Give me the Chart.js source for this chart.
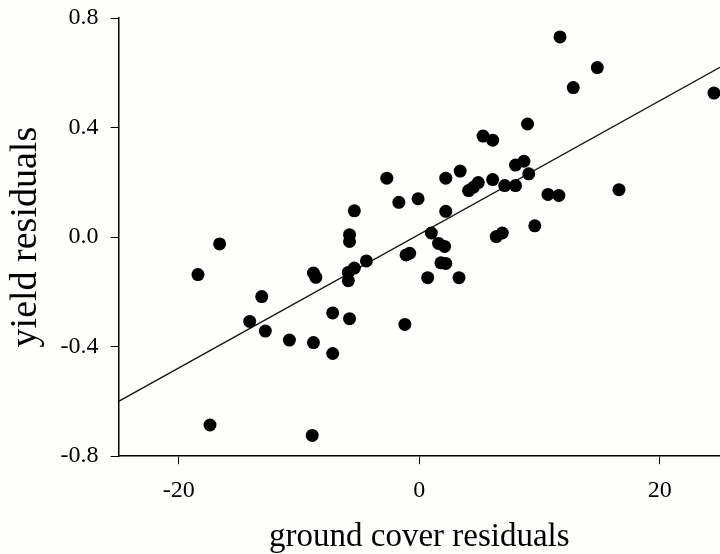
<!DOCTYPE html>
<html>
<head>
<meta charset="utf-8">
<script src="https://cdn.jsdelivr.net/npm/chart.js@4"></script>
<style>
	html, body { margin: 0; padding: 0; background: #fefefc; }
	#wrap { width: 720px; height: 554px; }
</style>
</head>
<body>
<div id="wrap"><canvas id="chart" width="720" height="554"></canvas></div>
<script>
// ground cover residuals (x) and yield residuals (y)
const coverResid = [
	-18.4, -16.6, -17.4, -14.1, -13.1, -12.8, -10.8, -8.8, -8.6, -8.8,
	-8.9, -7.2, -7.2, -5.8, -5.9, -5.9, -5.4, -4.4, -5.8, -5.8,
	-5.4, -2.7, -1.7, -0.1, -1.1, -0.8, -1.2, 0.7, 1.0, 1.6,
	2.1, 1.8, 2.2, 2.2, 2.2, 3.4, 3.3, 4.1, 4.5, 4.9,
	5.3, 6.1, 6.1, 6.4, 6.9, 7.1, 8.0, 8.0, 8.7, 9.0,
	9.1, 9.6, 10.7, 11.6, 11.7, 12.8, 14.8, 16.6, 24.5
];
const yieldResid = [
	-0.137, -0.025, -0.686, -0.308, -0.217, -0.343, -0.376, -0.131, -0.147, -0.385,
	-0.724, -0.277, -0.425, -0.298, -0.129, -0.159, -0.113, -0.087, 0.009, -0.016,
	0.096, 0.215, 0.127, 0.140, -0.065, -0.059, -0.319, -0.148, 0.015, -0.023,
	-0.034, -0.094, -0.096, 0.094, 0.215, 0.241, -0.148, 0.170, 0.182, 0.199,
	0.369, 0.354, 0.210, 0.002, 0.015, 0.188, 0.188, 0.263, 0.277, 0.413,
	0.231, 0.041, 0.156, 0.152, 0.731, 0.546, 0.619, 0.173, 0.526
];

// fitted regression line end points
const fitX = [-25, 25];
const fitY = [-0.60, 0.62];

const xTicks = [-20, 0, 20];
const yTicks = [-0.8, -0.4, 0.0, 0.4, 0.8];

const serif = '"Liberation Serif", "Times New Roman", serif';

const points = coverResid.map((x, i) => ({x, y: yieldResid[i]}));
const fitLine = fitX.map((x, i) => ({x, y: fitY[i]}));

new Chart(document.getElementById('chart'), {
	type: 'scatter',
	data: {
		datasets: [{
			data: points,
			pointRadius: 6.5,
			pointHoverRadius: 6.5,
			pointBackgroundColor: '#000',
			pointBorderColor: '#000',
			pointBorderWidth: 0,
			clip: false
		}, {
			type: 'line',
			data: fitLine,
			borderColor: '#111',
			borderWidth: 1.3,
			pointRadius: 0,
			fill: false
		}]
	},
	options: {
		responsive: false,
		animation: false,
		layout: {autoPadding: false, padding: {top: 3, right: 0, bottom: 0, left: 3}},
		plugins: {
			legend: {display: false},
			tooltip: {enabled: false}
		},
		scales: {
			x: {
				type: 'linear',
				min: -25,
				max: 25,
				afterBuildTicks: scale => { scale.ticks = xTicks.map(value => ({value})); },
				grid: {display: true, drawOnChartArea: false, drawTicks: true, tickLength: 8, color: '#000'},
				border: {display: true, color: '#000', width: 1.5},
				ticks: {
					color: '#000',
					padding: 12,
					maxRotation: 0,
					font: {family: serif, size: 24}
				},
				title: {
					display: true,
					text: 'ground cover residuals',
					color: '#000',
					padding: {top: 4, bottom: 0},
					font: {family: serif, size: 33, lineHeight: 1.0}
				}
			},
			y: {
				type: 'linear',
				min: -0.8,
				max: 0.8,
				afterBuildTicks: scale => { scale.ticks = yTicks.map(value => ({value})); },
				grid: {display: true, drawOnChartArea: false, drawTicks: true, tickLength: 8, color: '#000'},
				border: {display: true, color: '#000', width: 1.5},
				ticks: {
					color: '#000',
					padding: 12,
					font: {family: serif, size: 24, lineHeight: 0.5},
					callback: value => value.toFixed(1)
				},
				title: {
					display: true,
					text: 'yield residuals',
					color: '#000',
					padding: {top: 0, bottom: 0},
					font: {family: serif, size: 38}
				}
			}
		}
	}
});
</script>
</body>
</html>
